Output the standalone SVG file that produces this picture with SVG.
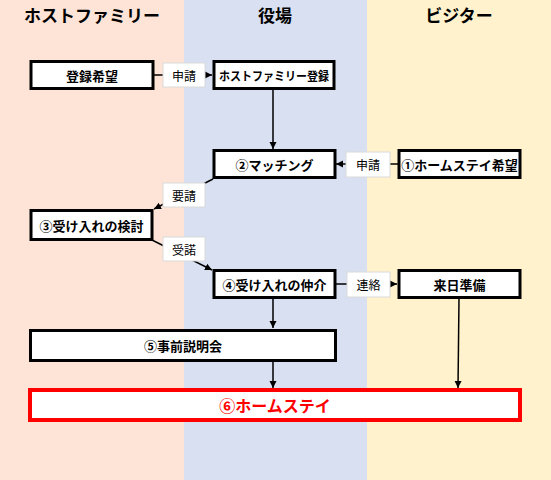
<svg xmlns="http://www.w3.org/2000/svg" width="551" height="480" viewBox="0 0 551 480">
<style>
.hdr{font-family:"Noto Sans CJK JP","Noto Sans",sans-serif;font-weight:bold;font-size:17px;fill:#000;text-anchor:middle}
.box{fill:#fff;stroke:#000;stroke-width:3}
.red{fill:#fff;stroke:#ff0000;stroke-width:4}
.t{font-family:"Noto Sans CJK JP","Noto Sans",sans-serif;font-weight:bold;font-size:13px;fill:#000;text-anchor:middle;dominant-baseline:central}
.rt{font-family:"Noto Sans CJK JP","Noto Sans",sans-serif;font-weight:bold;font-size:16px;fill:#ff0000;text-anchor:middle;dominant-baseline:central}
.lb{fill:#fff;stroke:#d9d9d9;stroke-width:1}
.lt{font-family:"Noto Sans CJK JP","Noto Sans",sans-serif;font-size:12px;fill:#000;text-anchor:middle;dominant-baseline:central}
.c{stroke:#000;stroke-width:1.5;fill:none}
</style>
<defs>
<marker id="a" markerWidth="8" markerHeight="8" refX="7" refY="4" orient="auto" markerUnits="userSpaceOnUse">
<path d="M0,0.5 L7,4 L0,7.5 Z" fill="#000"/>
</marker>
</defs>
<g id="lanes">
<rect x="0" y="0" width="184" height="480" fill="#fde4d7"/>
<rect x="184" y="0" width="183" height="480" fill="#d9e0f2"/>
<rect x="367" y="0" width="184" height="480" fill="#fff2cc"/>
<text class="hdr" x="92" y="22">ホストファミリー</text>
<text class="hdr" x="275" y="22">役場</text>
<text class="hdr" x="459" y="22">ビジター</text>
</g>
<g id="connectors">
<line class="c" x1="153" y1="75" x2="212" y2="75" marker-end="url(#a)"/>
<line class="c" x1="273" y1="88" x2="273" y2="149" marker-end="url(#a)"/>
<line class="c" x1="398" y1="164" x2="336" y2="164" marker-end="url(#a)"/>
<line class="c" x1="213" y1="179" x2="154" y2="209" marker-end="url(#a)"/>
<line class="c" x1="152" y1="240" x2="212" y2="270" marker-end="url(#a)"/>
<line class="c" x1="336" y1="284" x2="397" y2="284" marker-end="url(#a)"/>
<line class="c" x1="273" y1="298" x2="273" y2="328" marker-end="url(#a)"/>
<line class="c" x1="459" y1="298" x2="458" y2="388" marker-end="url(#a)"/>
<line class="c" x1="273" y1="361" x2="273" y2="388" marker-end="url(#a)"/>
</g>
<g id="lbl-shinsei1"><rect class="lb" x="163" y="63" width="42" height="24"/><text class="lt" x="184" y="75">申請</text></g>
<g id="lbl-shinsei2"><rect class="lb" x="346" y="152" width="44" height="25"/><text class="lt" x="368" y="164.5">申請</text></g>
<g id="lbl-yousei"><rect class="lb" x="163" y="183" width="42" height="24"/><text class="lt" x="184" y="195">要請</text></g>
<g id="lbl-judaku"><rect class="lb" x="163" y="237" width="42" height="24"/><text class="lt" x="184" y="249">受諾</text></g>
<g id="lbl-renraku"><rect class="lb" x="347" y="272" width="43" height="25"/><text class="lt" x="368.5" y="284.5">連絡</text></g>
<g id="n-touroku-kibou"><rect class="box" x="31" y="61.5" width="122" height="27"/><text class="t" x="92" y="75">登録希望</text></g>
<g id="n-hf-touroku"><rect class="box" x="214" y="61.5" width="120" height="27"/><text class="t" x="274" y="75" style="font-size:12px" textLength="110" lengthAdjust="spacingAndGlyphs">ホストファミリー登録</text></g>
<g id="n-matching"><rect class="box" x="214" y="150.5" width="121" height="27"/><text class="t" x="274.5" y="164">②マッチング</text></g>
<g id="n-homestay-kibou"><rect class="box" x="399" y="150.5" width="121" height="27"/><text class="t" x="459.5" y="164">①ホームステイ希望</text></g>
<g id="n-kentou"><rect class="box" x="31" y="210.5" width="121" height="29"/><text class="t" x="91.5" y="225">③受け入れの検討</text></g>
<g id="n-chukai"><rect class="box" x="214" y="270.5" width="121" height="27"/><text class="t" x="274.5" y="284">④受け入れの仲介</text></g>
<g id="n-rainichi"><rect class="box" x="399" y="270.5" width="121" height="27"/><text class="t" x="459.5" y="284">来日準備</text></g>
<g id="n-setsumeikai"><rect class="box" x="30.5" y="330.5" width="305" height="30"/><text class="t" x="183" y="345.5">⑤事前説明会</text></g>
<g id="n-homestay"><rect class="red" x="30" y="390" width="490" height="30"/><text class="rt" x="275" y="405">⑥ホームステイ</text></g>
</svg>
